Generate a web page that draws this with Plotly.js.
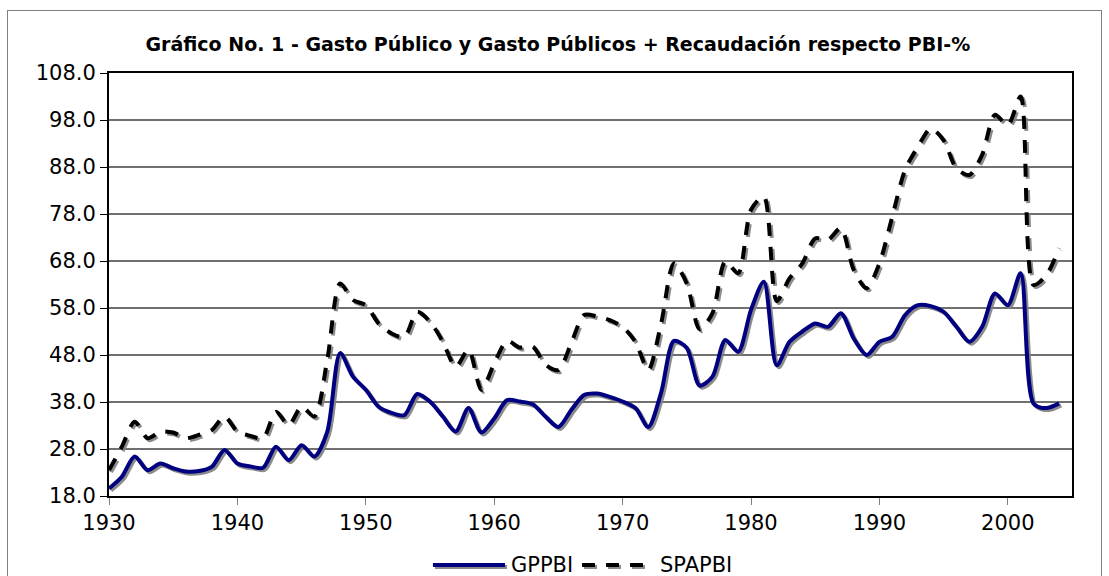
<!DOCTYPE html>
<html>
<head>
<meta charset="utf-8">
<script src="https://cdn.plot.ly/plotly-3.0.1.min.js"></script>
<style>
  html, body { margin: 0; padding: 0; background: #fff; }
  #wrap { position: relative; width: 1109px; height: 576px; overflow: hidden; }
  #frame { position: absolute; left: 7px; top: 10px; width: 1095px; height: 600px;
           border: 1px solid #808080; box-sizing: border-box; pointer-events: none; z-index: 5; }
  #chart { position: absolute; left: 0; top: 0; width: 1109px; height: 576px; }
  #chart .scatterlayer .js-line, #chart .shapelayer path {
    filter: drop-shadow(2px 2px 0px rgba(128,128,128,0.9));
  }
</style>
</head>
<body>
<div id="wrap">
  <div id="chart"></div>
  <div id="frame"></div>
</div>
<script>
const years = [];
for (let y = 1930; y <= 2004; y++) years.push(y);

const GPPBI = [
  19.6, 22.1, 26.4, 23.5, 24.9, 23.9, 23.2, 23.3, 24.2, 27.8,
  24.9, 24.3, 24.0, 28.5, 25.6, 28.8, 26.4, 31.7, 48.4, 43.4,
  40.6, 37.0, 35.7, 35.2, 39.7, 38.1, 34.9, 31.7, 36.7, 31.5,
  34.5, 38.4, 38.1, 37.5, 34.9, 32.7, 36.3, 39.5, 39.8, 39.1,
  38.1, 36.7, 32.7, 40.0, 51.0, 49.5, 41.5, 43.4, 51.2, 48.7,
  57.6, 63.6, 45.8, 50.8, 53.0, 54.7, 54.0, 56.9, 51.5, 48.0,
  50.8, 51.9, 56.5, 58.6, 58.4, 57.2, 54.0, 50.8, 54.0, 61.1,
  58.6, 65.4, 37.7, 36.7, 37.7
];

const SPAPBI = [
  23.5, 28.5, 33.8, 30.3, 31.7, 31.5, 30.3, 31.0, 32.0, 34.9,
  31.7, 30.8, 30.3, 35.9, 33.1, 37.0, 34.9, 47.0, 63.2, 59.7,
  58.6, 54.7, 52.6, 51.8, 57.2, 55.1, 50.8, 45.5, 49.1, 40.6,
  46.2, 51.0, 49.6, 49.8, 45.9, 44.8, 50.5, 56.5, 56.2, 55.4,
  54.0, 50.8, 44.8, 54.7, 67.5, 63.2, 53.5, 56.9, 67.9, 65.4,
  78.9, 81.7, 59.5, 64.3, 67.5, 72.8, 72.5, 75.0, 66.1, 62.2,
  67.5, 77.4, 87.4, 92.3, 96.2, 93.7, 87.7, 86.3, 90.6, 99.1,
  96.9, 103.0, 62.9, 65.0, 70.7
];

const seriesNames = ['GPPBI', 'SPAPBI'];
const yTicks = [18, 28, 38, 48, 58, 68, 78, 88, 98, 108];
const xTicks = [1930, 1940, 1950, 1960, 1970, 1980, 1990, 2000];
const titleText = 'Gráfico No. 1 - Gasto Público y Gasto Públicos + Recaudación respecto PBI-%';

const font = 'DejaVu Sans, Verdana, sans-serif';
const colors = ['#000080', '#000000'];
const dashes = ['solid', '13px,11px'];

const traces = [
  {
    x: years, y: GPPBI, name: seriesNames[0], type: 'scatter', mode: 'lines',
    line: { color: colors[0], width: 4, shape: 'spline', smoothing: 0.8 }
  },
  {
    x: years, y: SPAPBI, name: seriesNames[1], type: 'scatter', mode: 'lines',
    line: { color: colors[1], width: 4, shape: 'spline', smoothing: 0.8, dash: dashes[1] }
  }
];

// custom legend (placed below the plot area, in paper units)
const legY = -0.163;
const legendItems = [
  { x0: 0.3364, x1: 0.4112, tx: 0.4154 },
  { x0: 0.4912, x1: 0.5545, tx: 0.5701 }
];
const shapes = legendItems.map((it, i) => ({
  type: 'line', xref: 'paper', yref: 'paper',
  x0: it.x0, x1: it.x1, y0: legY, y1: legY,
  line: { color: colors[i], width: 4, dash: dashes[i] }
}));
const annotations = legendItems.map((it, i) => ({
  xref: 'paper', yref: 'paper', x: it.tx, y: legY,
  xanchor: 'left', yanchor: 'middle', showarrow: false,
  text: seriesNames[i], font: { family: font, size: 21, color: '#000' }
}));

const layout = {
  width: 1109, height: 576,
  margin: { l: 109, r: 37, t: 73, b: 80 },
  paper_bgcolor: '#ffffff', plot_bgcolor: '#ffffff',
  font: { family: font, size: 21, color: '#000' },
  title: {
    text: '<b>' + titleText + '</b>',
    font: { family: font, size: 19, color: '#000' },
    xref: 'container', x: 0.503, xanchor: 'center',
    yref: 'container', y: 1 - 44 / 576, yanchor: 'middle'
  },
  xaxis: {
    range: [1930, 2005],
    tickvals: xTicks, ticktext: xTicks.map(String),
    ticks: 'outside', ticklen: 7, tickwidth: 1, tickcolor: '#808080',
    showline: true, linecolor: '#000', linewidth: 2, mirror: true,
    showgrid: false, zeroline: false,
    tickfont: { family: font, size: 21, color: '#000' }
  },
  yaxis: {
    range: [18, 108],
    tickvals: yTicks, ticktext: yTicks.map(v => v.toFixed(1)),
    ticks: 'outside', ticklen: 7, tickwidth: 1, tickcolor: '#000',
    showline: true, linecolor: '#000', linewidth: 2, mirror: true,
    showgrid: true, gridcolor: '#707070', gridwidth: 1.5, zeroline: false,
    tickfont: { family: font, size: 21, color: '#000' }
  },
  showlegend: false,
  shapes: shapes,
  annotations: annotations
};

Plotly.newPlot('chart', traces, layout, { displayModeBar: false, staticPlot: true });
</script>
</body>
</html>
